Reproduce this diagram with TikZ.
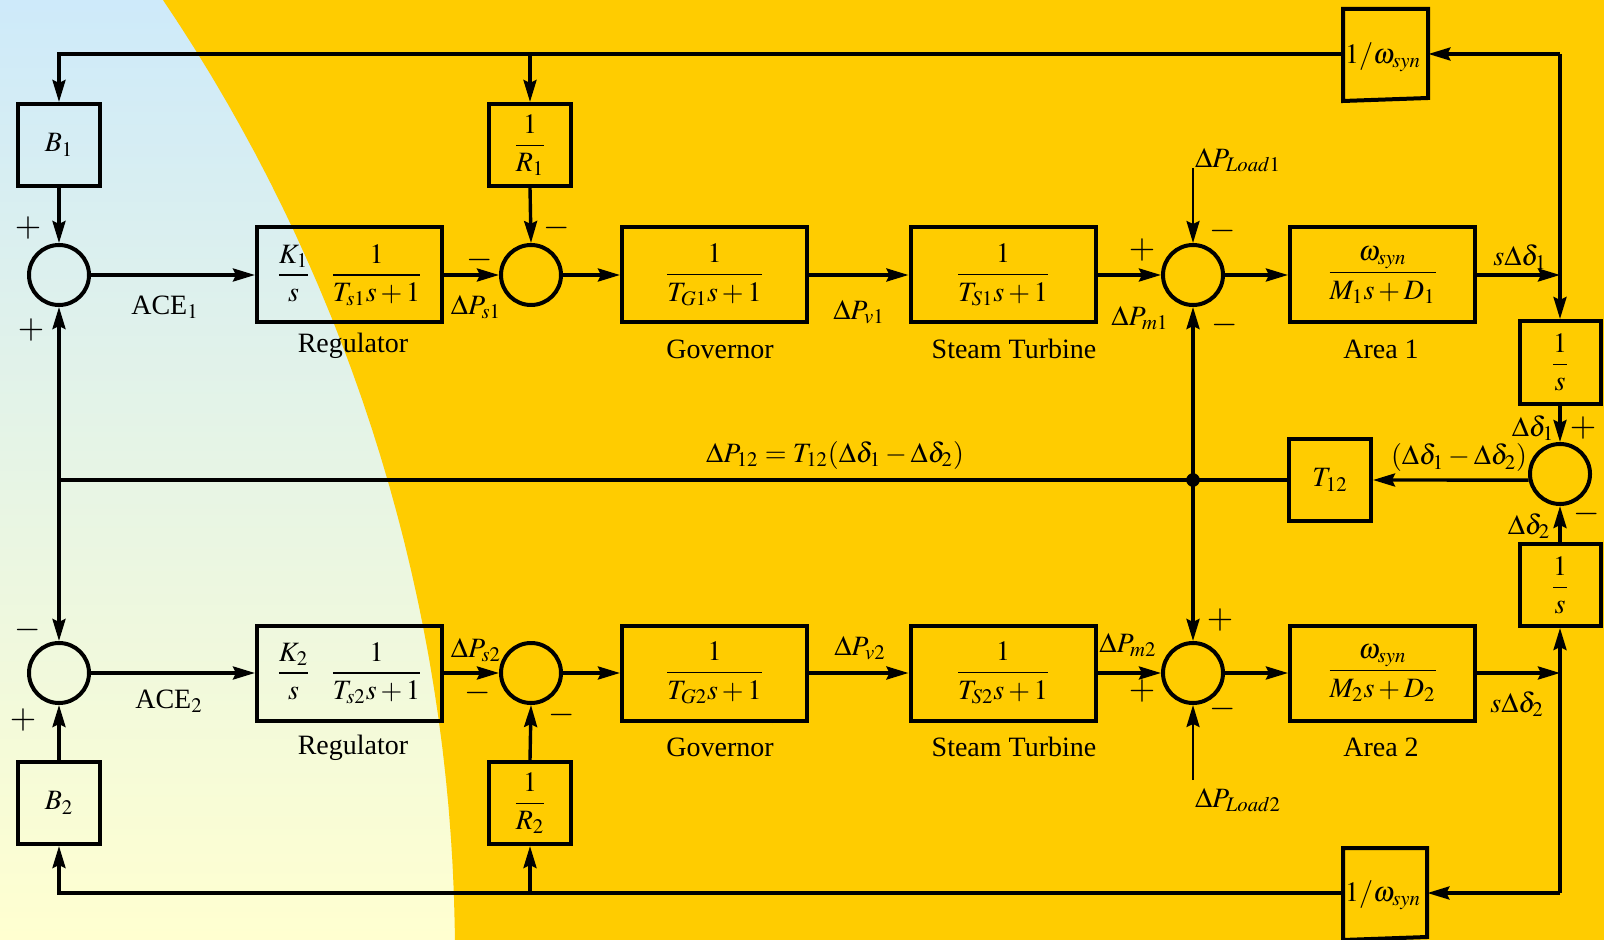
\documentclass[tikz,border=0pt]{standalone}
\usepackage{amsmath}
\usepackage{mathptmx}
\usepackage{fontspec}
\setmainfont{Liberation Serif}
\usetikzlibrary{arrows.meta,calc}

\definecolor{gold}{RGB}{255,204,0}
\definecolor{skytop}{RGB}{206,234,250}
\definecolor{skybot}{RGB}{255,255,208}

\tikzset{
  blk/.style={draw, line width=2pt, inner sep=0pt},
  sqblk/.style={blk, minimum width=41pt, minimum height=41pt},
  wideblk/.style={blk, minimum width=92.5pt, minimum height=47.5pt},
  sumc/.style={circle, draw, line width=2pt, minimum size=30pt, inner sep=0pt},
  wire/.style={line width=1.7pt},
  arr/.style={wire, -{Stealth[length=11pt, width=6.5pt, inset=1.5pt]}},
  thinarr/.style={line width=1.3pt, -{Stealth[length=11pt, width=6.5pt, inset=1.5pt]}},
  lab/.style={inner sep=0pt, anchor=center},
  sgn/.style={inner sep=0pt, anchor=center, font=\fontsize{17}{19}\selectfont},
}

\begin{document}
\begin{tikzpicture}[x=0.5pt, y=-0.5pt, font=\fontsize{14}{17}\selectfont]
\useasboundingbox (0,0) rectangle (1604,940);

% background: pale sky shading with a gold field bounded by a circular arc
\shade[top color=skytop, bottom color=skybot] (0,0) rectangle (1604,940);
\fill[gold] plot[domain=34.02:0.5, samples=90, variable=\t]
  ({-1253+1708*cos(\t)}, {955-1708*sin(\t)}) -- (1604,940) -- (1604,0) -- cycle;

% ---------------- upper area ----------------
\node[sqblk] (B1) at (59,145) {$B_1$};
\node[sqblk] (R1) at (530,145) {$\dfrac{1}{R_1}$};
\node[sumc] (S1) at (59,275) {};
\node[wideblk] (Reg1) at (349.5,275) {$\dfrac{K_1}{s}\hspace{10pt}\dfrac{1}{T_{s1}s+1}$};
\node[sumc] (S2) at (531,275) {};
\node[wideblk] (Gov1) at (714.5,275) {$\dfrac{1}{T_{G1}s+1}$};
\node[wideblk] (Tur1) at (1003,275) {$\dfrac{1}{T_{S1}s+1}$};
\node[sumc] (S3) at (1193,275) {};
\node[wideblk] (Ar1) at (1382.5,275) {$\dfrac{\omega_{syn}}{M_1s+D_1}$};

% ---------------- tie line ----------------
\node[sqblk, minimum width=40.5pt, minimum height=41.5pt] (Is1) at (1560,362.5) {$\dfrac{1}{s}$};
\node[sumc] (S4) at (1560,474) {};
\node[sqblk, minimum width=40.5pt] (Is2) at (1560,585) {$\dfrac{1}{s}$};
\node[sqblk] (T12) at (1330,480) {$T_{12}$};

% ---------------- lower area ----------------
\node[sumc] (S5) at (59,673) {};
\node[wideblk] (Reg2) at (349.5,673) {$\dfrac{K_2}{s}\hspace{10pt}\dfrac{1}{T_{s2}s+1}$};
\node[sumc] (S6) at (531,673) {};
\node[wideblk] (Gov2) at (714.5,673) {$\dfrac{1}{T_{G2}s+1}$};
\node[wideblk] (Tur2) at (1003,673) {$\dfrac{1}{T_{S2}s+1}$};
\node[sumc] (S7) at (1193,673) {};
\node[wideblk] (Ar2) at (1382.5,673) {$\dfrac{\omega_{syn}}{M_2s+D_2}$};
\node[sqblk] (B2) at (59,803) {$B_2$};
\node[sqblk] (R2) at (530,803) {$\dfrac{1}{R_2}$};

% 1/omega_syn blocks (slightly skewed outlines)
\draw[line width=2pt] (1343,9) -- (1428,9) -- (1428,98) -- (1343,101) -- cycle;
\node[inner sep=0pt, minimum width=42.5pt, minimum height=44pt] (W1) at (1385.5,54) {};
\node[lab] at (1383,57) {$1/\omega_{syn}$};
\draw[line width=2pt] (1343,848) -- (1427,848) -- (1427,937) -- (1343,940) -- cycle;
\node[inner sep=0pt, minimum width=42pt, minimum height=44pt] (W2) at (1385,893) {};
\node[lab] at (1383,895) {$1/\omega_{syn}$};

% routing points
\coordinate (TR) at (1560,54);
\coordinate (BR) at (1560,893);
\coordinate (ML) at (59,480);
\coordinate (J) at (1193,480);
\coordinate (L1) at (1193,168);
\coordinate (L2) at (1193,780);

% ---------------- connectors: upper area ----------------
\draw[arr] (S1.east) -- (Reg1.west);
\draw[arr] (Reg1.east) -- (S2.west);
\draw[arr] (S2.east) -- (Gov1.west);
\draw[arr] (Gov1.east) -- (Tur1.west);
\draw[arr] (Tur1.east) -- (S3.west);
\draw[arr] (S3.east) -- (Ar1.west);
\draw[arr] (Ar1.east) -- (Ar1.east -| TR);
\draw[arr] (B1.south) -- (S1.north);
\draw[arr] (R1.south) -- (S2.north);
\draw[thinarr] (L1) -- (S3.north);

% frequency feedback, area 1
\draw[arr] (TR) -- (Is1.north);
\draw[arr] (TR) -- (W1.east);
\draw[arr] (W1.west) -| (B1.north);
\draw[arr] (R1.north |- TR) -- (R1.north);

% tie-line power
\draw[arr] (Is1.south) -- (S4.north);
\draw[arr] (Is2.north) -- (S4.south);
\draw[arr] (S4.191) -- (T12.east);
\draw[wire] (T12.west) -- (ML);
\draw[arr] (ML) -- (S1.south);
\draw[arr] (ML) -- (S5.north);
\draw[arr] (J) -- (S3.south);
\draw[arr] (J) -- (S7.north);
\fill (J) circle[radius=3.4pt];

% ---------------- connectors: lower area ----------------
\draw[arr] (S5.east) -- (Reg2.west);
\draw[arr] (Reg2.east) -- (S6.west);
\draw[arr] (S6.east) -- (Gov2.west);
\draw[arr] (Gov2.east) -- (Tur2.west);
\draw[arr] (Tur2.east) -- (S7.west);
\draw[arr] (S7.east) -- (Ar2.west);
\draw[arr] (Ar2.east) -- (Ar2.east -| BR);
\draw[arr] (B2.north) -- (S5.south);
\draw[arr] (R2.north) -- (S6.south);
\draw[thinarr] (L2) -- (S7.south);

% frequency feedback, area 2
\draw[arr] (BR) -- (Is2.south);
\draw[arr] (BR) -- (W2.east);
\draw[arr] (W2.west) -| (B2.south);
\draw[arr] (R2.south |- BR) -- (R2.south);

% ---------------- labels ----------------
\node[lab] at (165,307) {ACE$_1$};
\node[lab] at (169,701) {ACE$_2$};
\node[lab] at (353,346) {Regulator};
\node[lab] at (353,748) {Regulator};
\node[lab] at (720,349) {Governor};
\node[lab] at (720,747) {Governor};
\node[lab] at (1014,349) {Steam Turbine};
\node[lab] at (1014,747) {Steam Turbine};
\node[lab] at (1381,349) {Area 1};
\node[lab] at (1381,747) {Area 2};

\node[lab] at (476,307) {$\Delta P_{s1}$};
\node[lab] at (476,650) {$\Delta P_{s2}$};
\node[lab] at (859,312) {$\Delta P_{v1}$};
\node[lab] at (860,648) {$\Delta P_{v2}$};
\node[lab] at (1140,318) {$\Delta P_{m1}$};
\node[lab] at (1128,645) {$\Delta P_{m2}$};
\node[lab] at (1238,160) {$\Delta P_{Load1}$};
\node[lab] at (1238,800) {$\Delta P_{Load2}$};
\node[lab] at (1520,257) {$s\Delta\delta_1$};
\node[lab] at (1517,704) {$s\Delta\delta_2$};
\node[lab] at (1533,428) {$\Delta\delta_1$};
\node[lab] at (1529,526) {$\Delta\delta_2$};
\node[lab] at (835,455) {$\Delta P_{12}=T_{12}(\Delta\delta_1-\Delta\delta_2)$};
\node[lab] at (1459,458) {$(\Delta\delta_1-\Delta\delta_2)$};

% ---------------- summing-junction signs ----------------
\node[sgn] at (28,228) {$+$};
\node[sgn] at (31,330) {$+$};
\node[sgn] at (480,260) {$-$};
\node[sgn] at (557,228) {$-$};
\node[sgn] at (1142,250) {$+$};
\node[sgn] at (1223,231) {$-$};
\node[sgn] at (1225,325) {$-$};
\node[sgn] at (1583,428) {$+$};
\node[sgn] at (1587,514) {$-$};
\node[sgn] at (28,630) {$-$};
\node[sgn] at (23,720) {$+$};
\node[sgn] at (478,693) {$-$};
\node[sgn] at (562,715) {$-$};
\node[sgn] at (1220,620) {$+$};
\node[sgn] at (1142,691) {$+$};
\node[sgn] at (1223,709) {$-$};
\end{tikzpicture}
\end{document}
